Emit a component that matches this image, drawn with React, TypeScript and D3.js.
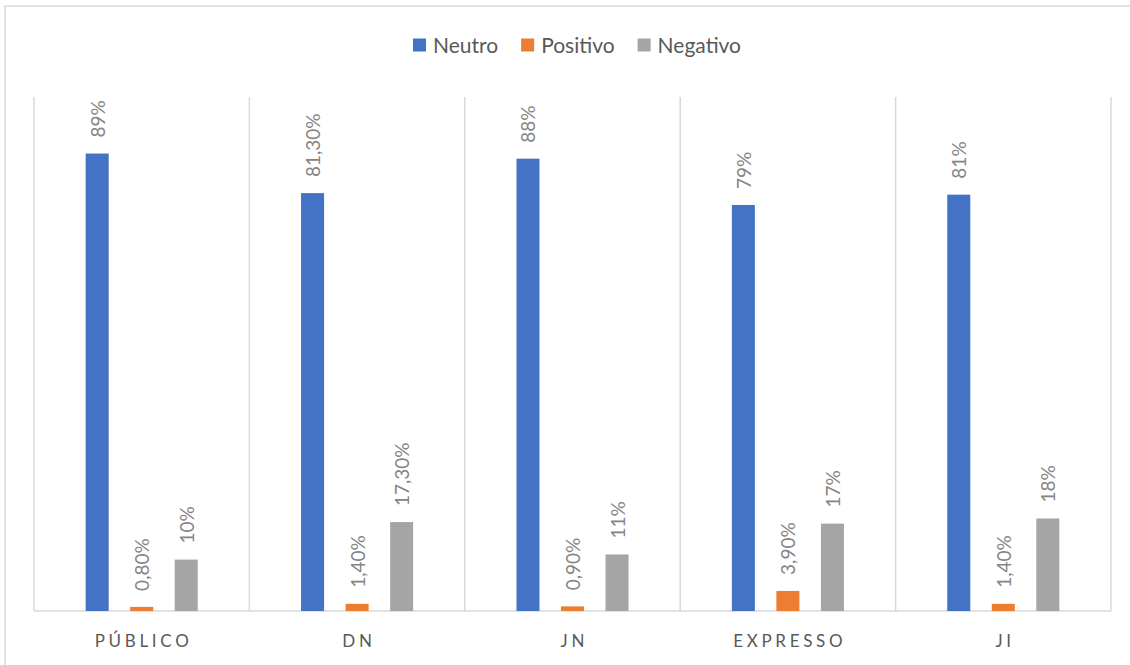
import React from "react";
import * as d3 from "d3";

const categories = ["PÚBLICO", "DN", "JN", "EXPRESSO", "JI"];
const seriesNames = ["Neutro", "Positivo", "Negativo"];
const neutro = [89, 81.3, 88, 79, 81];
const positivo = [0.8, 1.4, 0.9, 3.9, 1.4];
const negativo = [10, 17.3, 11, 17, 18];
const neutroLabels = ["89%", "81,30%", "88%", "79%", "81%"];
const positivoLabels = ["0,80%", "1,40%", "0,90%", "3,90%", "1,40%"];
const negativoLabels = ["10%", "17,30%", "11%", "17%", "18%"];
const colors = ["#4472C4", "#ED7D31", "#A5A5A5"];

const W = 1130;
const H = 665;
const plot = { left: 34, right: 1111, top: 97, bottom: 611 };
const FONT = "Lato, 'Open Sans', sans-serif";

function measure(text: string, size: number, spacing = 0): number {
  const c = document.createElement("canvas").getContext("2d");
  if (!c) return text.length * size * 0.55;
  c.font = `${size}px Lato`;
  return c.measureText(text).width + spacing * text.length;
}

export default function App() {
  const values = [neutro, positivo, negativo];
  const labels = [neutroLabels, positivoLabels, negativoLabels];

  const x = d3.scaleBand<string>().domain(categories).range([plot.left, plot.right]).padding(0);
  const xi = d3
    .scaleBand<string>()
    .domain(seriesNames)
    .range([0, x.bandwidth()])
    .paddingInner(0.483)
    .paddingOuter(1.16);
  const y = d3.scaleLinear().domain([0, 100]).range([plot.bottom, plot.top]);

  // legend layout
  const legendSize = 21;
  const sq = 13;
  const gapSqText = 7;
  const gapItems = 23;
  const widths = seriesNames.map((s) => measure(s, legendSize));
  const itemW = widths.map((w) => sq + gapSqText + w);
  const totalW = itemW.reduce((a, b) => a + b, 0) + gapItems * (seriesNames.length - 1);
  let lx = 577 - totalW / 2;
  const legendItems = seriesNames.map((s, i) => {
    const item = { name: s, x: lx, color: colors[i] };
    lx += itemW[i] + gapItems;
    return item;
  });

  const boundaries = categories.map((c) => x(c) as number).concat([plot.right]);
  const catSpacing = 3.7;

  return (
    <svg
      width={W}
      height={H}
      style={{ position: "absolute", left: 0, top: 0, background: "#fff" }}
      fontFamily={FONT}
    >
      <rect x={0} y={0} width={W} height={H} fill="#fff" />
      <rect x={5} y={6} width={W + 20} height={H + 20} fill="#fff" stroke="#D9D9D9" strokeWidth={1.5} />

      {/* legend */}
      {legendItems.map((it) => (
        <g key={it.name}>
          <rect x={it.x} y={38.5} width={sq} height={sq} fill={it.color} />
          <text x={it.x + sq + gapSqText} y={52.5} fontSize={legendSize} fill="#595959">
            {it.name}
          </text>
        </g>
      ))}

      {/* separators */}
      {boundaries.map((bx, i) => (
        <line key={i} x1={bx} x2={bx} y1={plot.top} y2={plot.bottom} stroke="#D9D9D9" strokeWidth={1.5} />
      ))}
      <line x1={plot.left} x2={plot.right} y1={plot.bottom} y2={plot.bottom} stroke="#D9D9D9" strokeWidth={1.5} />

      {/* bars */}
      {categories.map((c, ci) => (
        <g key={c}>
          {seriesNames.map((s, si) => {
            const v = values[si][ci];
            const bx = (x(c) as number) + (xi(s) as number);
            const bw = xi.bandwidth();
            const top = y(v);
            const cx = bx + bw / 2;
            return (
              <g key={s}>
                <rect x={bx} y={top} width={bw} height={plot.bottom - top} fill={colors[si]} />
                <text
                  transform={`translate(${cx + 7.5},${top - 16}) rotate(-90)`}
                  fontSize={19}
                  fill="#858585"
                >
                  {labels[si][ci]}
                </text>
              </g>
            );
          })}
        </g>
      ))}

      {/* category labels */}
      {categories.map((c) => (
        <text
          key={c}
          x={(x(c) as number) + x.bandwidth() / 2 + catSpacing / 2}
          y={647}
          textAnchor="middle"
          fontSize={17}
          letterSpacing={catSpacing}
          fill="#595959"
        >
          {c}
        </text>
      ))}
    </svg>
  );
}
